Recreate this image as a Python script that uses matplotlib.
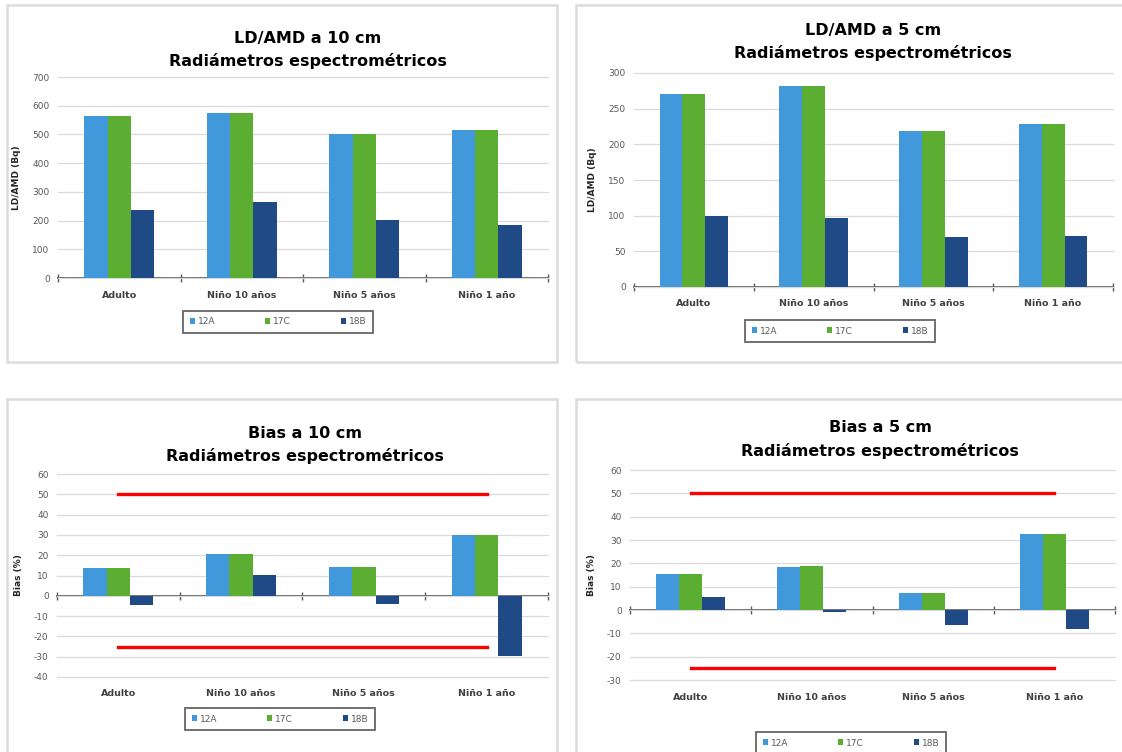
import matplotlib.pyplot as plt
from matplotlib.patches import Rectangle

plt.rcParams['axes.unicode_minus'] = False

# categories and series
categories = ['Adulto', 'Niño 10 años', 'Niño 5 años', 'Niño 1 año']
series = ['12A', '17C', '18B']
colors = ['#4199DB', '#5CAE33', '#1F4A86']

ld_10cm = {'12A': [564, 574, 500, 514], '17C': [564, 574, 500, 514], '18B': [237, 265, 201, 184]}
ld_5cm = {'12A': [270, 282, 218, 229], '17C': [270, 282, 218, 229], '18B': [100, 97, 70, 72]}
bias_10cm = {'12A': [13.8, 20.4, 14.1, 29.8], '17C': [13.8, 20.4, 14.1, 29.8], '18B': [-4.7, 10.1, -3.9, -29.9]}
bias_5cm = {'12A': [15.4, 18.4, 7.4, 32.5], '17C': [15.4, 18.8, 7.4, 32.5], '18B': [5.4, -0.9, -6.3, -8.1]}
limit_upper = [50, 50, 50, 50]
limit_lower = [-25, -25, -25, -25]

W, H = 1122, 752
fig = plt.figure(figsize=(W / 100, H / 100), dpi=100)
fig.patch.set_facecolor('white')

# panel frames (pixels: left, top, right, bottom)
for l, t, r, b in [(7, 5, 557, 362), (576, 5, 1130, 362), (7, 399, 557, 760), (576, 399, 1130, 760)]:
    fig.patches.append(Rectangle((l / W, 1 - b / H), (r - l) / W, (b - t) / H, transform=fig.transFigure,
                                 fill=False, edgecolor='#DCDCDC', lw=1.8))


def make_axes(l, t, r, b):
    return fig.add_axes([l / W, 1 - b / H, (r - l) / W, (b - t) / H])


def draw(ax, data, ylim, ystep, ylabel, title, title_xy, legend_xy, limits=False):
    x = range(len(categories))
    w = 0.19
    for i, s in enumerate(series):
        ax.bar([xi + (i - 1) * w for xi in x], data[s], width=w, color=colors[i], label=s, zorder=3)
    if limits:
        ax.plot(x, limit_upper, color='#FF0000', lw=2.4, zorder=4)
        ax.plot(x, limit_lower, color='#FF0000', lw=2.4, zorder=4)
    ax.set_xlim(-0.5, len(categories) - 0.5)
    ax.set_ylim(*ylim)
    ax.set_yticks(range(ylim[0], ylim[1] + 1, ystep))
    ax.yaxis.grid(True, color='#DADADA', lw=0.9, zorder=0, clip_on=False)
    ax.set_axisbelow(True)
    for sp in ['top', 'right', 'left', 'bottom']:
        ax.spines[sp].set_visible(False)
    ax.tick_params(axis='y', length=0, labelsize=6.5, labelcolor='#595959', pad=6)
    ax.set_xticks(list(x))
    ax.set_xticklabels(categories, fontsize=6.8, fontweight='bold', color='#404040')
    ax.tick_params(axis='x', length=0, pad=9)
    ax.set_ylabel(ylabel, fontsize=6.5, fontweight='bold', color='#262626', labelpad=8)

    # category axis at zero with boundary ticks
    frac = (0 - ylim[0]) / (ylim[1] - ylim[0])
    sec = ax.secondary_xaxis(frac)
    sec.set_xticks([i - 0.5 for i in range(len(categories) + 1)])
    sec.set_xticklabels([])
    sec.tick_params(direction='inout', length=6, width=1.0, color='#595959')
    sec.spines['bottom'].set_color('#595959')
    sec.spines['bottom'].set_linewidth(1.3)

    fig.text(title_xy[0] / W, 1 - title_xy[1] / H, title[0], ha='center', va='center',
             fontsize=11.5, fontweight='heavy', color='black')
    fig.text(title_xy[0] / W, 1 - (title_xy[1] + 23) / H, title[1], ha='center', va='center',
             fontsize=11.5, fontweight='heavy', color='black')

    leg = ax.legend(loc='center', bbox_to_anchor=(legend_xy[0] / W, 1 - legend_xy[1] / H),
                    bbox_transform=fig.transFigure, ncol=3, fontsize=6.5, frameon=True, fancybox=False,
                    handlelength=0.6, handleheight=0.6, handletextpad=0.3, columnspacing=5.5,
                    borderpad=0.7, borderaxespad=0)
    leg.get_frame().set_edgecolor('#404040')
    leg.get_frame().set_linewidth(1.3)
    for t in leg.get_texts():
        t.set_color('#595959')


ax1 = make_axes(58, 77, 548, 278)
draw(ax1, ld_10cm, (0, 700), 100, 'LD/AMD (Bq)', ('LD/AMD a 10 cm', 'Radiámetros espectrométricos'),
     (308, 38), (278, 322))

ax2 = make_axes(634, 73, 1113, 287)
draw(ax2, ld_5cm, (0, 300), 50, 'LD/AMD (Bq)', ('LD/AMD a 5 cm', 'Radiámetros espectrométricos'),
     (873, 30), (840, 331))

ax3 = make_axes(57, 474, 548, 677)
draw(ax3, bias_10cm, (-40, 60), 10, 'Bias (%)', ('Bias a 10 cm', 'Radiámetros espectrométricos'),
     (305, 433), (280, 719), limits=True)

ax4 = make_axes(630, 470, 1115, 680)
draw(ax4, bias_5cm, (-30, 60), 10, 'Bias (%)', ('Bias a 5 cm', 'Radiámetros espectrométricos'),
     (880, 428), (851, 743), limits=True)

fig.savefig('out.png', dpi=100)
